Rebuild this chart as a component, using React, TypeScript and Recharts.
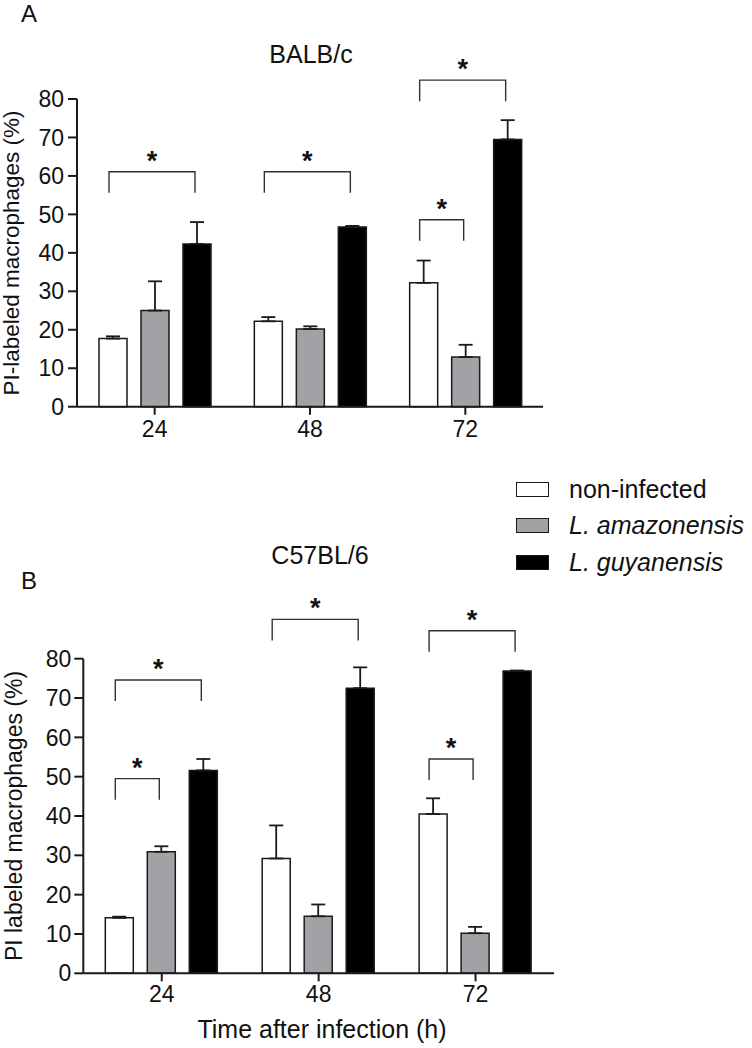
import React from "react";
import { BarChart, Bar, XAxis, YAxis, ErrorBar, LabelList, Legend } from "recharts";

const times = ["24", "48", "72"];
const seriesNames = ["non-infected", "L. amazonensis", "L. guyanensis"];
const yTicks = [0, 10, 20, 30, 40, 50, 60, 70, 80];

// BALB/c (panel A), mean and upper SEM
const balbNonInfected = [17.7, 22.2, 32.2];
const balbNonInfectedSem = [0.6, 1.1, 5.8];
const balbAmazonensis = [25.0, 20.2, 12.9];
const balbAmazonensisSem = [7.6, 0.7, 3.2];
const balbGuyanensis = [42.3, 46.7, 69.5];
const balbGuyanensisSem = [5.7, 0.3, 5.0];

// C57BL/6 (panel B)
const c57NonInfected = [14.1, 29.2, 40.5];
const c57NonInfectedSem = [0.3, 8.4, 4.0];
const c57Amazonensis = [30.9, 14.5, 10.2];
const c57AmazonensisSem = [1.4, 3.0, 1.6];
const c57Guyanensis = [51.6, 72.5, 76.9];
const c57GuyanensisSem = [2.9, 5.3, 0.1];

// significance brackets: time index, series compared with non-infected, bracket level (%)
const balbBrackets = [
  { time: 0, to: 2, level: 61.1 },
  { time: 1, to: 2, level: 61.1 },
  { time: 2, to: 2, level: 84.9 },
  { time: 2, to: 1, level: 48.6 },
];
const c57Brackets = [
  { time: 0, to: 2, level: 74.6 },
  { time: 0, to: 1, level: 49.5 },
  { time: 1, to: 2, level: 90.0 },
  { time: 2, to: 2, level: 87.1 },
  { time: 2, to: 1, level: 54.5 },
];

const FONT = "'Liberation Sans', Arial, sans-serif";
const INK = "#1a1a1a";
const fills = ["#ffffff", "#a2a2a6", "#000000"];
const BAR_SIZE = 28;
const BAR_GAP = 14;
const LEG = 21;

function buildRows(
  non: number[], nonSem: number[],
  ama: number[], amaSem: number[],
  guy: number[], guySem: number[]
) {
  return times.map((t, i) => ({
    time: t,
    non: non[i], nonErr: [0, nonSem[i]],
    ama: ama[i], amaErr: [0, amaSem[i]],
    guy: guy[i], guyErr: [0, guySem[i]],
  }));
}

const balbRows = buildRows(balbNonInfected, balbNonInfectedSem, balbAmazonensis, balbAmazonensisSem, balbGuyanensis, balbGuyanensisSem);
const c57Rows = buildRows(c57NonInfected, c57NonInfectedSem, c57Amazonensis, c57AmazonensisSem, c57Guyanensis, c57GuyanensisSem);

type Bracket = { time: number; to: number; level: number };

// drawn from the L. guyanensis bar geometry, so it follows the chart's scales
function bracketLabel(brackets: Bracket[]) {
  return (props: any) => {
    const vb = props.viewBox ?? props;
    const x = Number(vb.x);
    const y = Number(vb.y);
    const w = Number(vb.width);
    const h = Math.abs(Number(vb.height));
    const value = Number(props.value);
    const list = brackets.filter((b) => b.time === props.index);
    if (!list.length || !value) return null;
    const zeroY = y + h;
    const perUnit = h / value;
    const pitch = w + BAR_GAP;
    const cx = x + w / 2;
    return (
      <g key={`br-${props.index}`}>
        {list.map((b, k) => {
          const x1 = cx - 2 * pitch - 4;
          const x2 = cx - (2 - b.to) * pitch - 2;
          const by = zeroY - b.level * perUnit;
          return (
            <g key={k}>
              <path
                d={`M${x1},${by + LEG} V${by} H${x2} V${by + LEG}`}
                fill="none"
                stroke="#333"
                strokeWidth={1.4}
              />
              <text
                x={(x1 + x2) / 2}
                y={by - 2}
                textAnchor="middle"
                fontSize={27}
                fontWeight="bold"
                fill="#111"
                fontFamily={FONT}
              >
                *
              </text>
            </g>
          );
        })}
      </g>
    );
  };
}

// keep the series order (non-infected first), not the legend's sorted payload
function LegendBox() {
  return (
    <div style={{ fontFamily: FONT }}>
      {seriesNames.map((name, i) => (
        <div key={name} style={{ display: "flex", alignItems: "center", height: 36.5 }}>
          <span
            style={{
              display: "inline-block",
              width: 33,
              height: 15,
              boxSizing: "border-box",
              border: `1.5px solid ${INK}`,
              background: fills[i],
            }}
          />
          <span
            style={{
              marginLeft: 20,
              fontSize: 25,
              color: "#111",
              fontStyle: i === 0 ? "normal" : "italic",
              whiteSpace: "nowrap",
            }}
          >
            {name}
          </span>
        </div>
      ))}
    </div>
  );
}

function Panel({
  rows,
  brackets,
  width,
  height,
  margin,
  yAxisWidth,
  xTickMargin,
  yTickMargin,
  withLegend,
}: any) {
  const tickStyle = { fontSize: 23, fill: "#111", fontFamily: FONT };
  return (
    <BarChart
      width={width}
      height={height}
      data={rows}
      margin={margin}
      barGap={BAR_GAP}
      style={{ fontFamily: FONT }}
    >
      <XAxis
        dataKey="time"
        height={30}
        tickSize={8}
        tickMargin={xTickMargin}
        tick={tickStyle}
        axisLine={{ stroke: INK, strokeWidth: 2 }}
        tickLine={{ stroke: INK, strokeWidth: 2 }}
      />
      <YAxis
        domain={[0, 80]}
        ticks={yTicks}
        interval={0}
        width={yAxisWidth}
        tickSize={9}
        tickMargin={yTickMargin}
        tick={tickStyle}
        axisLine={{ stroke: INK, strokeWidth: 2 }}
        tickLine={{ stroke: INK, strokeWidth: 2 }}
      />
      {withLegend && (
        <Legend
          layout="horizontal"
          verticalAlign="middle"
          align="center"
          content={<LegendBox />}
          wrapperStyle={{ top: 1, left: 516, width: 236 }}
        />
      )}
      <Bar dataKey="non" name={seriesNames[0]} fill={fills[0]} stroke={INK} strokeWidth={1.5} barSize={BAR_SIZE} isAnimationActive={false}>
        <ErrorBar dataKey="nonErr" width={7} stroke={INK} strokeWidth={1.8} direction="y" />
      </Bar>
      <Bar dataKey="ama" name={seriesNames[1]} fill={fills[1]} stroke={INK} strokeWidth={1.5} barSize={BAR_SIZE} isAnimationActive={false}>
        <ErrorBar dataKey="amaErr" width={7} stroke={INK} strokeWidth={1.8} direction="y" />
      </Bar>
      <Bar dataKey="guy" name={seriesNames[2]} fill={fills[2]} stroke={INK} strokeWidth={1.5} barSize={BAR_SIZE} isAnimationActive={false}>
        <ErrorBar dataKey="guyErr" width={7} stroke={INK} strokeWidth={1.8} direction="y" />
        <LabelList dataKey="guy" content={bracketLabel(brackets)} />
      </Bar>
    </BarChart>
  );
}

export default function App() {
  return (
    <div style={{ position: "absolute", left: 0, top: 0, width: 752, height: 1048, background: "#fff", fontFamily: FONT }}>
      <div style={{ position: "absolute", left: 0, top: 0 }}>
        <Panel
          rows={balbRows}
          brackets={balbBrackets}
          width={752}
          height={470}
          margin={{ top: 99, right: 209, bottom: 33.3, left: 0 }}
          yAxisWidth={77}
          xTickMargin={6}
          yTickMargin={4}
        />
      </div>
      <div style={{ position: "absolute", left: 0, top: 470 }}>
        <Panel
          rows={c57Rows}
          brackets={c57Brackets}
          width={752}
          height={578}
          margin={{ top: 188.7, right: 198, bottom: 44.7, left: 0 }}
          yAxisWidth={83.3}
          xTickMargin={4}
          yTickMargin={3}
          withLegend
        />
      </div>
      <svg
        width={752}
        height={1048}
        style={{ position: "absolute", left: 0, top: 0, pointerEvents: "none" }}
        fontFamily={FONT}
        fill="#111"
      >
        <text x={21} y={22} fontSize={24}>A</text>
        <text x={311} y={63} fontSize={25} textAnchor="middle">BALB/c</text>
        <text x={19} y={253} fontSize={22.5} textAnchor="middle" transform="rotate(-90 19 253)">
          PI-labeled macrophages (%)
        </text>
        <text x={21} y={589} fontSize={24}>B</text>
        <text x={320} y={564} fontSize={25} textAnchor="middle">C57BL/6</text>
        <text x={22} y={816} fontSize={23} textAnchor="middle" transform="rotate(-90 22 816)">
          PI labeled macrophages (%)
        </text>
        <text x={322} y={1038} fontSize={25} textAnchor="middle">Time after infection (h)</text>
      </svg>
    </div>
  );
}
